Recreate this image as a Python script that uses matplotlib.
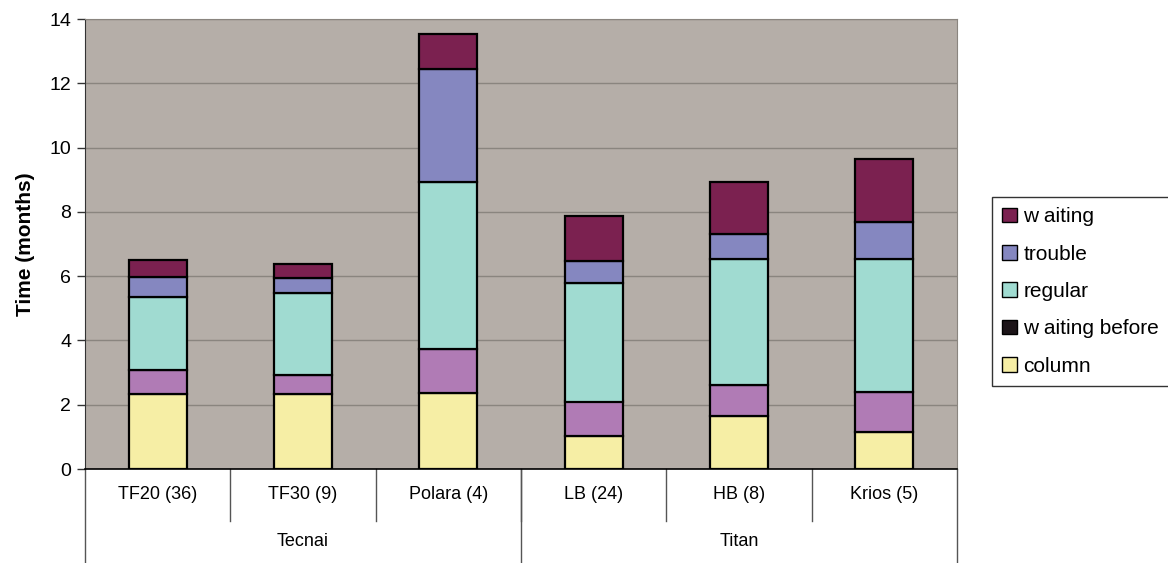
import numpy as np
import matplotlib.pyplot as plt
from matplotlib.patches import Patch
import matplotlib.transforms as mtransforms

plt.rcParams['font.family'] = ['Liberation Sans', 'DejaVu Sans']

# instruments and their groups
instruments = ["TF20 (36)", "TF30 (9)", "Polara (4)", "LB (24)", "HB (8)", "Krios (5)"]
groups = ["Tecnai", "Titan"]
group_sizes = [3, 3]

# time per phase (months), bottom to top
column = [2.34, 2.34, 2.36, 1.03, 1.65, 1.16]
waiting_before = [0.73, 0.58, 1.38, 1.07, 0.97, 1.25]
regular = [2.28, 2.56, 5.19, 3.69, 3.92, 4.11]
trouble = [0.63, 0.45, 3.53, 0.67, 0.76, 1.16]
waiting = [0.51, 0.44, 1.08, 1.41, 1.63, 1.95]

series = [
    ("column", column, "#f6eea5"),
    ("w aiting before", waiting_before, "#b07bb5"),
    ("regular", regular, "#a0dbd1"),
    ("trouble", trouble, "#8587c0"),
    ("w aiting", waiting, "#7b2150"),
]
legend_colors = {"w aiting before": "#1c1418"}

fig = plt.figure(figsize=(11.68, 5.63), dpi=100)
ax = fig.add_axes([85 / 1168, 1 - 469 / 563, (957 - 85) / 1168, (469 - 19) / 563])
ax.set_facecolor("#b5aea8")

x = np.arange(len(instruments))
bottom = np.zeros(len(instruments))
for name, vals, color in series:
    ax.bar(x, vals, bottom=bottom, width=0.4, color=color,
           edgecolor="black", linewidth=1.6, zorder=3)
    bottom += np.array(vals)

ax.set_xlim(-0.5, len(instruments) - 0.5)
ax.set_ylim(0, 14)
ax.set_yticks(np.arange(0, 15, 2))
ax.yaxis.grid(True, color="#8a857f", linewidth=1)
ax.set_axisbelow(True)
ax.tick_params(axis="y", labelsize=14, length=6, width=1, color="#333333", pad=4)
ax.set_ylabel("Time (months)", fontsize=15, fontweight="bold", labelpad=10)

for side in ("top", "right"):
    ax.spines[side].set_color("#8a857f")
ax.spines["left"].set_color("#333333")
ax.spines["bottom"].set_color("black")
ax.spines["bottom"].set_linewidth(1.2)

# category labels with separator lines underneath the axis
ax.set_xticks(x)
ax.set_xticklabels(instruments, fontsize=13)
ax.tick_params(axis="x", length=0, pad=12)

trans = mtransforms.blended_transform_factory(ax.transData, ax.transAxes)
for b in np.arange(0.5, len(instruments) - 1, 1.0):
    ax.plot([b, b], [0, -0.115], color="#555555", lw=1, transform=trans, clip_on=False)

start = 0
edges = [-0.5]
for g, n in zip(groups, group_sizes):
    mid = start + (n - 1) / 2
    ax.text(mid, -0.16, g, transform=trans, ha="center", va="center", fontsize=13)
    start += n
    edges.append(start - 0.5)
for e in edges:
    ax.plot([e, e], [0, -0.21], color="#555555", lw=1, transform=trans, clip_on=False)

handles = [Patch(facecolor=legend_colors.get(name, color), edgecolor="black", label=name)
           for name, vals, color in reversed(series)]
fig.legend(handles=handles, loc="upper left", bbox_to_anchor=(992 / 1168, 1 - 197 / 563),
           fontsize=15, frameon=True, fancybox=False, edgecolor="black",
           handlelength=0.7, handleheight=0.7, handletextpad=0.3,
           labelspacing=0.88, borderpad=0.5, borderaxespad=0)

fig.savefig("out.png", dpi=100)
